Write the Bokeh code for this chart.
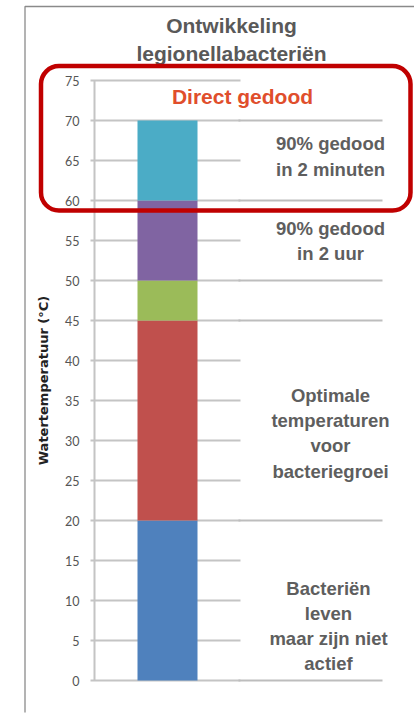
from bokeh.plotting import figure
from bokeh.models import Range1d, LinearAxis, SingleIntervalTicker, BoxAnnotation, ColumnDataSource
from bokeh.core.properties import value
from bokeh.embed import file_html
from bokeh.resources import INLINE

# ---- data ----
zone_bottom = [0, 20, 45, 50, 60]
zone_top = [20, 45, 50, 60, 70]
zone_colors = ["#4F81BD", "#C0504D", "#9BBB59", "#8064A2", "#4BACC6"]
boundaries = [0, 20, 45, 50, 60, 70]
axis_min, axis_max, tick_step = 0, 75, 5
title_text = "Ontwikkeling\nlegionellabacteriën"
highlight_text = "Direct gedood"
zone_texts = [
    "90% gedood\nin 2 minuten",
    "90% gedood\nin 2 uur",
    "Optimale\ntemperaturen\nvoor\nbacteriegroei",
    "Bacteriën\nleven\nmaar zijn niet\nactief",
]
axis_title = "Watertemperatuur (°C)"

# ---- layout (pixel-like x scale, degrees on y) ----
W, H = 414, 721
p = figure(width=W, height=H, x_range=Range1d(0, 414), y_range=Range1d(-5.125, 85),
           x_axis_type=None, y_axis_type=None, toolbar_location=None,
           output_backend="svg", min_border=0)
p.outline_line_color = None
p.background_fill_color = "white"

# frame border (left + top)
p.line(x=[24.5, 24.5, 430], y=[-4.0, 84.25, 84.25], line_color="#8a8a8a", line_width=1.3)

# y axis drawn inside the frame
yax = LinearAxis(ticker=SingleIntervalTicker(interval=tick_step), bounds=(axis_min, axis_max),
                 fixed_location=94)
yax.level = "underlay"
yax.axis_line_color = "#C4C4C4"
yax.axis_line_width = 2
yax.major_tick_line_color = "#C4C4C4"
yax.major_tick_line_width = 2
yax.major_tick_in = 146
yax.major_tick_out = 4
yax.minor_tick_line_color = None
yax.major_label_text_font = "Lato"
yax.major_label_text_font_size = "12.5px"
yax.major_label_text_color = "#555555"
yax.major_label_standoff = 11
yax.axis_label = axis_title
yax.axis_label_text_font = "DejaVu Sans"
yax.axis_label_text_font_style = "bold"
yax.axis_label_text_font_size = "13px"
yax.axis_label_text_color = "#222222"
yax.axis_label_standoff = 11
p.add_layout(yax, "left")

# stacked bar
bars = ColumnDataSource(dict(bottom=zone_bottom, top=zone_top, color=zone_colors))
p.vbar(x=167, width=60, bottom="bottom", top="top", fill_color="color", line_color=None, source=bars)

# zone boundary lines on the right
p.segment(x0=238, x1=382, y0=boundaries, y1=boundaries, line_color="#BDBDBD", line_width=2)

# highlight box
p.add_layout(BoxAnnotation(left=40.5, right=410, top=76.8, bottom=58.75,
                           fill_alpha=0, line_color="#C00000", line_alpha=1, line_width=4.5,
                           border_radius=18))

# title
p.text(x=[231], y=[80.1], text=[title_text], text_align="center", text_baseline="middle",
       text_font=value("Liberation Sans"), text_font_style="bold", text_font_size="21px",
       text_color="#595959", text_line_height=1.24)

# highlight label
p.text(x=[242], y=[73], text=[highlight_text], text_align="center", text_baseline="middle",
       text_font=value("Liberation Sans"), text_font_style="bold", text_font_size="21px",
       text_color="#E04E2C")

# zone labels
labels = ColumnDataSource(dict(x=[330, 330, 330, 328], y=[65.5, 54.9, 30.9, 6.8], text=zone_texts))
p.text(x="x", y="y", text="text", source=labels, text_align="center", text_baseline="middle",
       text_font=value("Liberation Sans"), text_font_style="bold", text_font_size="18.5px",
       text_color="#5E5E5E", text_line_height=1.2)

open("out.html", "w").write(file_html(p, INLINE))
